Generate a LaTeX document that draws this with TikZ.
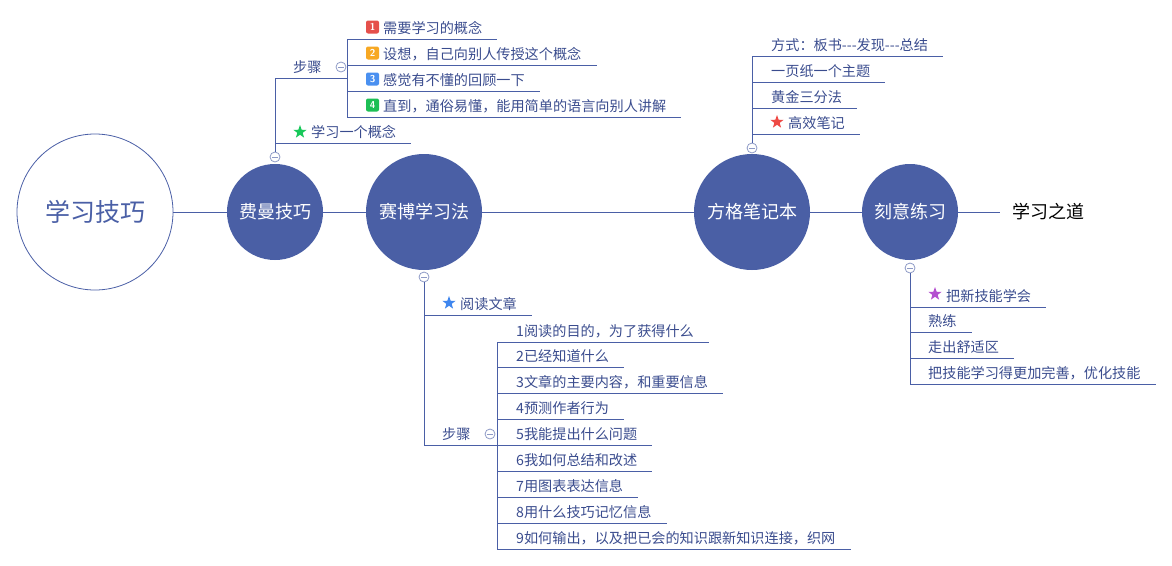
\documentclass[tikz,border=0pt]{standalone}
\usepackage{fontspec}
\setmainfont{Noto Sans CJK SC}
\usetikzlibrary{shapes.geometric}
\definecolor{lc}{HTML}{4A5FA6}
\definecolor{tc}{HTML}{3A4C8E}
\definecolor{fillc}{HTML}{4A5FA5}
\definecolor{cc}{HTML}{8E9AC6}
\definecolor{bred}{HTML}{E5504B}
\definecolor{borange}{HTML}{F7A823}
\definecolor{bblue}{HTML}{4A90F0}
\definecolor{bgreen}{HTML}{1DBF55}
\definecolor{sgreen}{HTML}{18C85A}
\definecolor{sred}{HTML}{EE4A45}
\definecolor{sblue}{HTML}{3F86EE}
\definecolor{spurple}{HTML}{B44FD0}
\newcommand\mmitem[5]{%
  \coordinate (#1a) at (#2,#3);
  \node[item] (#1) at ({#4-15},{#3-6}) {#5};
  \draw[ln] (#1a) -- (#1a -| #1.east);
}
\begin{document}
\begin{tikzpicture}[x=1pt,y=-1pt,
  ln/.style={draw=lc,line width=0.9pt},
  item/.style={font=\fontsize{14.15}{16}\selectfont,text=tc,inner xsep=15pt,inner ysep=0pt,anchor=base west},
  plain/.style={font=\fontsize{14.15}{16}\selectfont,text=tc,inner sep=0pt,anchor=base west},
  root/.style={circle,draw=lc,line width=0.8pt,fill=white,minimum size=156pt,inner sep=0pt,text=lc,font=\fontsize{25}{28}\selectfont},
  mainnode/.style={circle,fill=fillc,text=white,inner sep=0pt,font=\fontsize{18}{20}\selectfont},
  coll/.style={circle,draw=cc,fill=white,minimum size=10pt,inner sep=0pt,line width=0.8pt,
    path picture={\draw[cc,line width=0.8pt] ([xshift=-2.6pt]path picture bounding box.center) -- ([xshift=2.6pt]path picture bounding box.center);}},
  badge/.style={rounded corners=2pt,minimum size=13pt,inner sep=0pt,text=white,font=\fontsize{10}{10}\sffamily\bfseries},
  starnode/.style={star,star points=5,star point ratio=2.5,minimum size=14pt,inner sep=0pt}
]
\useasboundingbox (0,0) rectangle (1172,565);

% main row
\node[root] (root) at (95,212) {学习技巧};
\node[mainnode,minimum size=96pt] (f) at (275,212) {费曼技巧};
\node[mainnode,minimum size=116pt] (s) at (424,212) {赛博学习法};
\node[mainnode,minimum size=116pt] (g) at (752,212) {方格笔记本};
\node[mainnode,minimum size=96pt] (k) at (910,212) {刻意练习};
\node[font=\fontsize{18}{20}\selectfont,text=black,inner xsep=12pt,anchor=west] (d) at (1000,212) {学习之道};
\draw[ln] (root) -- (f);
\draw[ln] (f) -- (s);
\draw[ln] (s) -- (g);
\draw[ln] (g) -- (k);
\draw[ln] (k) -- (d);

% Feynman
\node[coll] (fc) at (275,157) {};
\coordinate (fa) at (275,78);
\coordinate (fb) at (347,78);
\draw[ln] (fc.north) -- (fa);
\draw[ln] (fa) -- (fb);
\node[plain] (fsteps) at (293,72) {步骤};
\node[coll] (fsc) at (341,67) {};
\mmitem{f1}{347}{39}{383}{需要学习的概念}
\mmitem{f2}{347}{65}{383}{设想，自己向别人传授这个概念}
\mmitem{f3}{347}{91}{383}{感觉有不懂的回顾一下}
\mmitem{f4}{347}{117}{383}{直到，通俗易懂，能用简单的语言向别人讲解}
\draw[ln] (f1a) -- (f4a);
\node[badge,fill=bred] (b1) at (372.5,27) {1};
\node[badge,fill=borange] (b2) at (372.5,53) {2};
\node[badge,fill=bblue] (b3) at (372.5,79) {3};
\node[badge,fill=bgreen] (b4) at (372.5,105) {4};
\mmitem{f5}{275}{143}{311}{学习一个概念}
\node[starnode,fill=sgreen] (st1) at (300,132) {};

% Fangge
\node[coll] (gc) at (752,148) {};
\mmitem{g1}{752}{56}{771}{方式：板书-{}-{}-发现-{}-{}-总结}
\mmitem{g2}{752}{82}{771}{一页纸一个主题}
\mmitem{g3}{752}{108}{771}{黄金三分法}
\mmitem{g4}{752}{134}{788}{高效笔记}
\node[starnode,fill=sred] (st2) at (777,122) {};
\draw[ln] (gc.north) -- (g1a);

% Saibo
\node[coll] (sc) at (424,277) {};
\mmitem{s0}{424}{315}{460}{阅读文章}
\node[starnode,fill=sblue] (st3) at (449,303) {};
\coordinate (sa) at (424,445);
\coordinate (sb) at (497,445);
\draw[ln] (sc.south) -- (sa);
\draw[ln] (sa) -- (sb);
\node[plain] (ssteps) at (442,439) {步骤};
\node[coll] (ssc) at (490,434) {};
\mmitem{s1}{497}{342}{516}{1阅读的目的，为了获得什么}
\mmitem{s2}{497}{367}{516}{2已经知道什么}
\mmitem{s3}{497}{393}{516}{3文章的主要内容，和重要信息}
\mmitem{s4}{497}{419}{516}{4预测作者行为}
\mmitem{s5}{497}{445}{516}{5我能提出什么问题}
\mmitem{s6}{497}{471}{516}{6我如何总结和改述}
\mmitem{s7}{497}{497}{516}{7用图表表达信息}
\mmitem{s8}{497}{523}{516}{8用什么技巧记忆信息}
\mmitem{s9}{497}{549}{516}{9如何输出，以及把已会的知识跟新知识连接，织网}
\draw[ln] (s1a) -- (s9a);

% Keyi
\node[coll] (kc) at (910,268) {};
\mmitem{k1}{910}{307}{946}{把新技能学会}
\node[starnode,fill=spurple] (st4) at (935,294) {};
\mmitem{k2}{910}{332}{928}{熟练}
\mmitem{k3}{910}{358}{928}{走出舒适区}
\mmitem{k4}{910}{384}{928}{把技能学习得更加完善，优化技能}
\draw[ln] (kc.south) -- (k4a);
\end{tikzpicture}
\end{document}
